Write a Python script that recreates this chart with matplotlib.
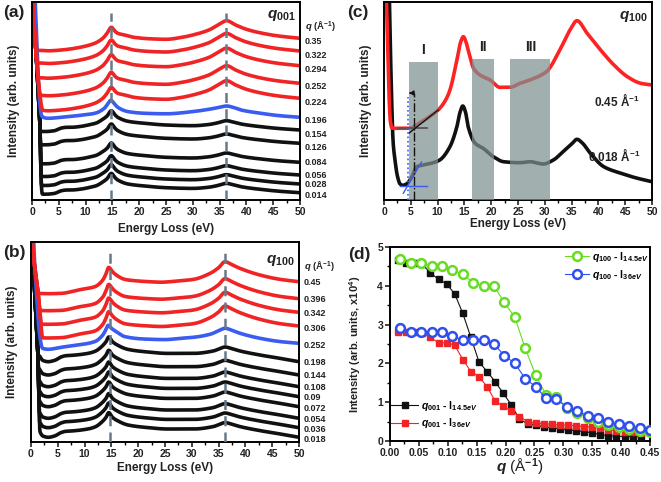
import numpy as np
import matplotlib
matplotlib.use('Agg')
import matplotlib.pyplot as plt
from matplotlib.lines import Line2D
from matplotlib.patches import Rectangle
from matplotlib.ticker import MultipleLocator

plt.rcParams.update({
    'font.family': ['Liberation Sans', 'DejaVu Sans'],
    'font.weight': 'bold',
    'mathtext.fontset': 'custom',
    'mathtext.rm': 'Liberation Sans:bold',
    'mathtext.it': 'Liberation Sans:italic:bold',
    'mathtext.bf': 'Liberation Sans:bold',
    'axes.linewidth': 1.4,
})

# ---------------- data: panel (a) q001 spectra (heights in px above axis bottom) ----------
a_q = ['0.35', '0.322', '0.294', '0.252', '0.224', '0.196', '0.154', '0.126', '0.084', '0.056', '0.028', '0.014']
a_group = ['red', 'red', 'red', 'red', 'red', 'blue', 'black', 'black', 'black', 'black', 'black', 'black']
a_offset = [161.7, 149, 134.3, 116.7, 101.7, 82.7, 70, 56.7, 37.7, 25, 16, 7.3]
a_label_y = [158.3, 145, 130.7, 114, 97.3, 80, 65.7, 52.3, 37.7, 24.8, 15.5, 4.5]

a_red_E = [0.5, 1.5, 3, 5.5, 8.6, 11.7, 13.2, 14, 14.8, 15.5, 16, 17.3, 19, 22, 25, 28, 30, 33, 35, 36.3, 38, 40, 43, 46, 50]
a_red_V = [-12, -12, -12.5, -11.7, -9.4, -5, 0, 5, 11, 7, 5, 3.3, 1, -0.5, -1, 1, 3.3, 8.3, 14.3, 17.6, 13.3, 9, 5, 2.3, 0]
a_blue_E = [1.7, 2.9, 5.5, 8.6, 11.7, 13.5, 14.2, 14.7, 15.3, 16, 17.9, 21, 25, 30, 33, 35, 36.3, 37.5, 39, 42.7, 46, 50]
a_blue_V = [0.7, -1, 0, 1.7, 4, 9, 14, 17, 14, 10, 5.7, 4, 3.5, 5.7, 8, 10, 11.3, 10, 7.3, 4, 1.7, 0]
a_black_E = [1.5, 2.0, 2.7, 3.5, 4.2, 5.0, 5.5, 6.5, 7.3, 9, 10.5, 12, 13, 14, 14.8, 15.5, 16, 17.9, 21, 25, 30, 33, 34.5, 36.3, 37.5, 39, 42.7, 46, 50]
a_black_V = [-1, -1.5, -1.5, -1.2, -0.7, 1.0, 2.0, 2.7, 2.7, 3.5, 5, 7, 10, 14, 19.3, 15, 12.7, 8.7, 6.7, 5, 4.3, 5.5, 7, 9.3, 8, 6, 3.3, 1.5, 0]
a_tail_black_E = [0, 0.2, 0.5, 0.9, 1.2, 1.45, 1.6, 1.75, 1.9, 2.2, 3]
a_tail_black_V = [330, 200, 170, 135, 105, 80, 45, 15, 5, -5, -20]
a_tail_blue_E = [0, 0.6, 0.9, 1.1, 1.4, 1.7, 2.0, 2.5, 3.5]
a_tail_blue_V = [400, 200, 160, 130, 100, 86, 80, 72, 60]
a_tail_red_E = [0, 0.2, 0.5, 0.8, 1.2, 1.5, 1.8, 2.2, 3, 4]
a_tail_red_V = [300, 200, 165, 145, 118, 104, 93, 82, 65, 50]

# ---------------- data: panel (b) q100 spectra ----------
b_q = ['0.45', '0.396', '0.342', '0.306', '0.252', '0.198', '0.144', '0.108', '0.09', '0.072', '0.054', '0.036', '0.018']
b_group = ['red', 'red', 'red', 'red', 'blue', 'black', 'black', 'black', 'black', 'black', 'black', 'black', 'black']
b_offset = [160.3, 143.3, 129.7, 116, 98.7, 80.3, 67, 55.3, 45.3, 35.3, 23.7, 14.3, 4.7]
b_label_y = [159.3, 142, 128, 113.7, 96.7, 79.3, 66, 55, 44.3, 33.7, 23, 12.3, 2.7]

b_red_E = [1.3, 3, 5.6, 8.8, 11.9, 13.4, 14, 14.5, 15.2, 15.9, 17.5, 19.3, 22, 24.3, 27, 30.3, 33.4, 35, 36.2, 37.5, 39, 42.7, 46.5, 50]
b_red_V = [-11.7, -12, -11.7, -8.3, -5, 1.7, 8, 14.3, 10, 6.7, 2.3, 1, 0, -0.5, 0.5, 2.3, 8.3, 14, 20, 17, 13.3, 6.7, 2.3, 0]
b_blue_E = [1.9, 3.2, 5.6, 8.8, 11.9, 13.4, 14.0, 14.4, 15.0, 15.9, 17.5, 21, 25, 28, 30.3, 33.4, 35, 36.2, 37.5, 39, 42.7, 46.5, 50]
b_blue_V = [-5, -6, -4, -1.7, 1.7, 8.3, 14, 18, 15, 11.7, 6.7, 4.3, 3.7, 5, 6, 9, 12.5, 15, 13, 10, 5, 1.7, 0]
b_black_E = [1.6, 2.2, 3.2, 4.4, 5.6, 6.5, 7.5, 10.6, 12, 13.1, 14, 14.5, 15.2, 15.9, 18.1, 21.2, 25.5, 30.3, 34, 35.2, 36.2, 37.5, 39, 42.7, 46.5, 50]
b_black_V = [5.7, 1.3, 0, 1.3, 4.7, 6, 6.3, 8.3, 10.5, 14.7, 20, 24.7, 20, 17.3, 12.3, 10, 8.3, 8.3, 10.7, 13, 14.7, 13, 10.7, 6.7, 3.3, 0]
b_tail_black_E = [0, 0.3, 0.7, 1.1, 1.3, 1.45, 1.6, 1.8, 2.1, 2.6, 3.5]
b_tail_black_V = [330, 202, 150, 110, 85, 50, 15, 5, 0, -5, -20]
b_tail_blue_E = [0, 0.5, 1.0, 1.4, 1.7, 2.0, 2.5, 3.5]
b_tail_blue_V = [400, 202, 150, 118, 104, 95, 86, 75]
b_tail_red_E = [0, 0.2, 0.6, 1.0, 1.3, 1.62, 1.8, 2.05, 2.5, 3.5, 5]
b_tail_red_V = [300, 202, 180, 162, 150, 132, 120, 107, 92, 65, 40]

# ---------------- data: panel (c) ----------
c_red_E = [0.3, 0.6, 0.9, 1.2, 1.5, 2, 3, 4, 5, 5.5, 8, 10.1, 11.5, 12.3, 13.6, 14.3, 14.8, 15.3, 15.7, 16.7, 17.9, 19.8, 21.6, 23.5, 25.4, 27.2, 30.3, 32.8, 34.7, 36, 37.9, 40.4, 42.9, 45.4, 47.9, 50]
c_red_V = [230, 170, 110, 78, 72, 71.7, 71.7, 71.7, 71.7, 73.3, 81.7, 90, 100, 110, 140, 158, 163.3, 158, 150, 131.7, 125, 120, 112.7, 112.7, 116.7, 120, 128.3, 150, 170, 179.3, 166.7, 150, 135, 123.3, 116.7, 115]
c_black_E = [0.9, 1.2, 1.43, 1.7, 2.05, 2.5, 3.0, 3.5, 4.2, 5.2, 6.1, 7.3, 9.2, 10.4, 12.3, 13.6, 14.2, 14.7, 15.2, 15.7, 17, 18.5, 20.4, 22.3, 25.4, 27.2, 29.7, 31.6, 33.4, 35, 36, 37, 38.5, 41, 44.2, 47.3, 50]
c_black_V = [230, 150, 100, 58, 40, 24, 16, 14.7, 16, 23.3, 33.3, 35, 37.3, 40, 53.3, 73.3, 88, 94, 88, 73.3, 56.7, 51.7, 43.3, 38.3, 37.3, 38.3, 36, 40, 48.3, 56, 60.7, 57, 46.7, 33.3, 26.7, 21.7, 18.3]
c_regions = [(4.7, 10.0), (16.4, 20.5), (23.6, 31.0)]
c_region_tops = [138.3, 141, 141]
c_region_names = ['I', 'II', 'III']
c_onsets = [4.5, 5.6]          # blue / black onset markers (eV)

# ---------------- data: panel (d) ----------
q001 = [0.014, 0.028, 0.042, 0.056, 0.070, 0.084, 0.098, 0.112, 0.126, 0.140, 0.154, 0.168, 0.182,
        0.196, 0.210, 0.224, 0.238, 0.252, 0.266, 0.280, 0.294, 0.308, 0.322, 0.336, 0.350, 0.364,
        0.378, 0.392, 0.406, 0.420, 0.434]
I001_145 = [4.67, 4.60, 4.58, 4.55, 4.33, 4.17, 4.05, 3.79, 3.29, 2.67, 2.04, 1.79, 1.53, 1.23, 0.93,
            0.56, 0.45, 0.40, 0.37, 0.33, 0.32, 0.29, 0.27, 0.24, 0.21, 0.16, 0.14, 0.12, 0.12, 0.11, 0.11]
I001_36 = [2.80, 2.80, 2.80, 2.78, 2.67, 2.53, 2.53, 2.47, 2.10, 1.79, 1.66, 1.40, 1.03, 0.90, 0.77,
           0.63, 0.50, 0.46, 0.45, 0.43, 0.41, 0.41, 0.39, 0.37, 0.36, 0.33, 0.29, 0.27, 0.24, 0.22, 0.20]
q100 = [0.018, 0.036, 0.054, 0.072, 0.090, 0.108, 0.126, 0.144, 0.162, 0.180, 0.198, 0.216, 0.234,
        0.252, 0.270, 0.288, 0.306, 0.324, 0.342, 0.360, 0.378, 0.396, 0.414, 0.432, 0.450]
I100_145 = [4.69, 4.60, 4.60, 4.50, 4.50, 4.40, 4.30, 4.08, 3.99, 3.99, 3.57, 3.19, 2.39, 1.70, 1.19,
            1.13, 0.86, 0.72, 0.60, 0.50, 0.42, 0.36, 0.32, 0.26, 0.22]
I100_36 = [2.90, 2.80, 2.80, 2.80, 2.80, 2.70, 2.60, 2.60, 2.60, 2.50, 2.20, 2.00, 1.61, 1.40, 1.10,
           1.07, 0.88, 0.78, 0.65, 0.58, 0.48, 0.43, 0.39, 0.33, 0.28]

COL = {'red': '#f02424', 'blue': '#3a5cf0', 'black': '#111111'}
DASH = '#687a8a'
TXT = '#222222'
LW = 2.6

W, H = 661, 482
fig = plt.figure(figsize=(W / 100, H / 100), dpi=100)


def add_ax(l, t, r, b):
    return fig.add_axes([l / W, 1 - b / H, (r - l) / W, (b - t) / H])


def pchip(x, y, xn):
    x = np.asarray(x, float)
    y = np.asarray(y, float)
    xn = np.clip(xn, x[0], x[-1])
    h = np.diff(x)
    d = np.diff(y) / h
    m = np.zeros_like(y)
    for k in range(1, len(x) - 1):
        if d[k - 1] * d[k] > 0:
            w1 = 2 * h[k] + h[k - 1]
            w2 = h[k] + 2 * h[k - 1]
            m[k] = (w1 + w2) / (w1 / d[k - 1] + w2 / d[k])
    m[0] = d[0]
    m[-1] = d[-1]
    i = np.clip(np.searchsorted(x, xn) - 1, 0, len(h) - 1)
    t = (xn - x[i]) / h[i]
    return ((2 * t**3 - 3 * t**2 + 1) * y[i] + (t**3 - 2 * t**2 + t) * h[i] * m[i]
            + (-2 * t**3 + 3 * t**2) * y[i + 1] + (t**3 - t**2) * h[i] * m[i + 1])


E = np.linspace(0, 50, 1501)


def style_energy_axis(ax, ytop):
    ax.set_xlim(0, 50)
    ax.set_ylim(0, ytop)
    ax.set_yticks([])
    ax.xaxis.set_major_locator(MultipleLocator(5))
    ax.xaxis.set_minor_locator(MultipleLocator(2.5))
    ax.tick_params(axis='x', which='major', direction='out', length=3.5, width=1.2,
                   labelsize=7.5, pad=1.5, colors=TXT)
    ax.tick_params(axis='x', which='minor', direction='out', length=2, width=1.0)
    for lab in ax.get_xticklabels():
        lab.set_fontweight('bold')


def spectra_panel(ax, qs, groups, offsets, label_y, shapes, tails, ytop, dash_top):
    for q, g, off in list(zip(qs, groups, offsets))[::-1]:
        base = off + pchip(shapes[g][0], shapes[g][1], E)
        tail = pchip(tails[g][0], tails[g][1], E)
        s = 1.2
        y = s * np.logaddexp(base / s, tail / s)
        ax.plot(E, y, color=COL[g], lw=LW, solid_capstyle='butt', zorder=2)
    for xe in (14.7, 36.2):
        ax.plot([xe, xe], [0, dash_top], color=DASH, lw=1.8, dashes=(4, 2.5), zorder=3)
    for q, ly in zip(qs, label_y):
        ax.text(50.95, ly, q, fontsize=6.5, fontweight='bold', color=TXT, ha='left', va='center',
                clip_on=False)
    ax.text(50.95, ytop - 24, r'$q$ (Å$^{-1}$)', fontsize=6.8, color=TXT, ha='left', va='center',
            clip_on=False)
    style_energy_axis(ax, ytop)


# ---------------- panel (a) ----------------
axa = add_ax(32, 2, 300, 200)
spectra_panel(axa, a_q, a_group, a_offset, a_label_y,
              {'red': (a_red_E, a_red_V), 'blue': (a_blue_E, a_blue_V), 'black': (a_black_E, a_black_V)},
              {'red': (a_tail_red_E, a_tail_red_V), 'blue': (a_tail_blue_E, a_tail_blue_V),
               'black': (a_tail_black_E, a_tail_black_V)}, 198, 187)
axa.text(0.985, 0.93, r'$q_{001}$', transform=axa.transAxes, fontsize=11, ha='right', va='center', color=TXT)

# ---------------- panel (b) ----------------
axb = add_ax(31, 242, 299, 442)
spectra_panel(axb, b_q, b_group, b_offset, b_label_y,
              {'red': (b_red_E, b_red_V), 'blue': (b_blue_E, b_blue_V), 'black': (b_black_E, b_black_V)},
              {'red': (b_tail_red_E, b_tail_red_V), 'blue': (b_tail_blue_E, b_tail_blue_V),
               'black': (b_tail_black_E, b_tail_black_V)}, 200, 190)
axb.text(0.985, 0.905, r'$q_{100}$', transform=axb.transAxes, fontsize=11, ha='right', va='center', color=TXT)

# ---------------- panel (c) ----------------
axc = add_ax(384, 2, 652, 200)
axc.plot(E, pchip(c_black_E, c_black_V, E), color=COL['black'], lw=LW, zorder=2)
axc.plot(E, pchip(c_red_E, c_red_V, E), color='#ff2222', lw=LW, zorder=2)
for (x0, x1), top, name in zip(c_regions, c_region_tops, c_region_names):
    axc.add_patch(Rectangle((x0, 0), x1 - x0, top, facecolor='#7f9090', edgecolor='none',
                            alpha=0.72, zorder=3))
    axc.text((x0 + x1) / 2, top + 12, name, ha='center', va='center', fontsize=10,
             fontweight='bold', color=TXT)
# onset construction lines
axc.plot([2.7, 8.0], [71.7, 71.7], color='#555555', lw=1.3, zorder=4)
axc.plot([4.7, 10.1], [67, 90], color='#111111', lw=1.0, zorder=4)
axc.plot([3.0, 8.0], [14, 14], color=COL['blue'], lw=1.0, zorder=4)
axc.plot([3.6, 7.0], [6.7, 38], color=COL['blue'], lw=1.0, zorder=4)
axc.plot([c_onsets[0], c_onsets[0]], [0, 103], color=COL['blue'], lw=1.2, ls=':', zorder=4)
axc.plot([c_onsets[1], c_onsets[1]], [0, 107], color='#111111', lw=1.0, ls='-.', zorder=4)
axc.annotate('', xy=(4.1, 107), xytext=(c_onsets[1], 107),
             arrowprops=dict(arrowstyle='-|>', color='#111111', lw=0.9, ls='--',
                             mutation_scale=7), zorder=5)
axc.text(47.8, 100, r'0.45 Å$^{\mathbf{-1}}$', ha='right', va='center', fontsize=8.5, color=TXT)
axc.text(47.9, 45, r'0.018 Å$^{\mathbf{-1}}$', ha='right', va='center', fontsize=8.5, color=TXT)
axc.text(0.985, 0.925, r'$q_{100}$', transform=axc.transAxes, fontsize=11, ha='right', va='center', color=TXT)
style_energy_axis(axc, 198)

# ---------------- panel (d) ----------------
axd = add_ax(390, 247, 650, 441)
axd.plot(q001, I001_145, '-', color='#111111', lw=0.8, marker='s', ms=4.8, zorder=3)
axd.plot(q001, I001_36, '-', color='#f02424', lw=0.8, marker='s', ms=4.8, zorder=3)
axd.plot(q100, I100_145, '-', color='#66dd1e', lw=0.8, marker='o', ms=6.3, mfc='white',
         mew=1.8, zorder=4)
axd.plot(q100, I100_36, '-', color='#2f4fee', lw=0.8, marker='o', ms=6.3, mfc='white',
         mew=1.8, zorder=4)
axd.set_xlim(0, 0.45)
axd.set_ylim(0, 5)
axd.xaxis.set_major_locator(MultipleLocator(0.05))
axd.xaxis.set_minor_locator(MultipleLocator(0.025))
axd.yaxis.set_major_locator(MultipleLocator(1))
axd.yaxis.set_minor_locator(MultipleLocator(0.5))
axd.xaxis.set_major_formatter(matplotlib.ticker.FormatStrFormatter('%.2f'))
axd.tick_params(which='major', direction='out', length=3.5, width=1.2, labelsize=7.5, pad=1.5,
                colors=TXT)
axd.tick_params(which='minor', direction='out', length=2, width=1.0)
for lab in axd.get_xticklabels() + axd.get_yticklabels():
    lab.set_fontweight('bold')

h1 = [Line2D([], [], color='#66dd1e', lw=0.8, marker='o', ms=6.3, mfc='white', mew=1.8),
      Line2D([], [], color='#2f4fee', lw=0.8, marker='o', ms=6.3, mfc='white', mew=1.8)]
leg1 = axd.legend(h1, [r'$q_{100}$ - I$_{14.5eV}$', r'$q_{100}$ - I$_{36eV}$'], loc='upper right',
                  bbox_to_anchor=(1.0, 0.99), frameon=False, fontsize=7.5, handlelength=2.3,
                  handletextpad=0.3, labelspacing=0.35, borderpad=0.1, borderaxespad=0)
axd.add_artist(leg1)
h2 = [Line2D([], [], color='#111111', lw=0.8, marker='s', ms=4.8),
      Line2D([], [], color='#f02424', lw=0.8, marker='s', ms=4.8)]
axd.legend(h2, [r'$q_{001}$ - I$_{14.5eV}$', r'$q_{001}$ - I$_{36eV}$'], loc='lower left',
           bbox_to_anchor=(0.0, 0.05), frameon=False, fontsize=7.5, handlelength=2.6,
           handletextpad=0.3, labelspacing=0.35, borderpad=0.1, borderaxespad=0)

# ---------------- labels ----------------
for ax, lx, ly in ((axa, -0.045, -0.116), (axb, -0.05, -0.10), (axc, -0.045, -0.091)):
    ax.set_xlabel('Energy Loss (eV)', fontsize=8.5, fontweight='bold', color=TXT, va='top')
    ax.xaxis.set_label_coords(0.5, ly)
    ax.set_ylabel('Intensity (arb. units)', fontsize=8.5, fontweight='bold', color=TXT)
    ax.yaxis.set_label_coords(lx, 0.5)
axd.set_ylabel(r'Intensity (arb. units, x10$^{4}$)', fontsize=8, fontweight='bold', color=TXT)
axd.yaxis.set_label_coords(-0.104, 0.5)
axd.set_xlabel(r'$q$ (Å$^{\mathbf{-1}}$)', fontsize=11, color=TXT, va='top')
axd.xaxis.set_label_coords(0.5, -0.082)

for txt, x, y in (('(a)', 3, 13), ('(b)', 3, 253), ('(c)', 347, 13), ('(d)', 348, 255)):
    fig.text(x / W, 1 - y / H, txt, fontsize=12.5, fontweight='bold', ha='left', va='center', color=TXT)

fig.savefig('out.png', dpi=100)
